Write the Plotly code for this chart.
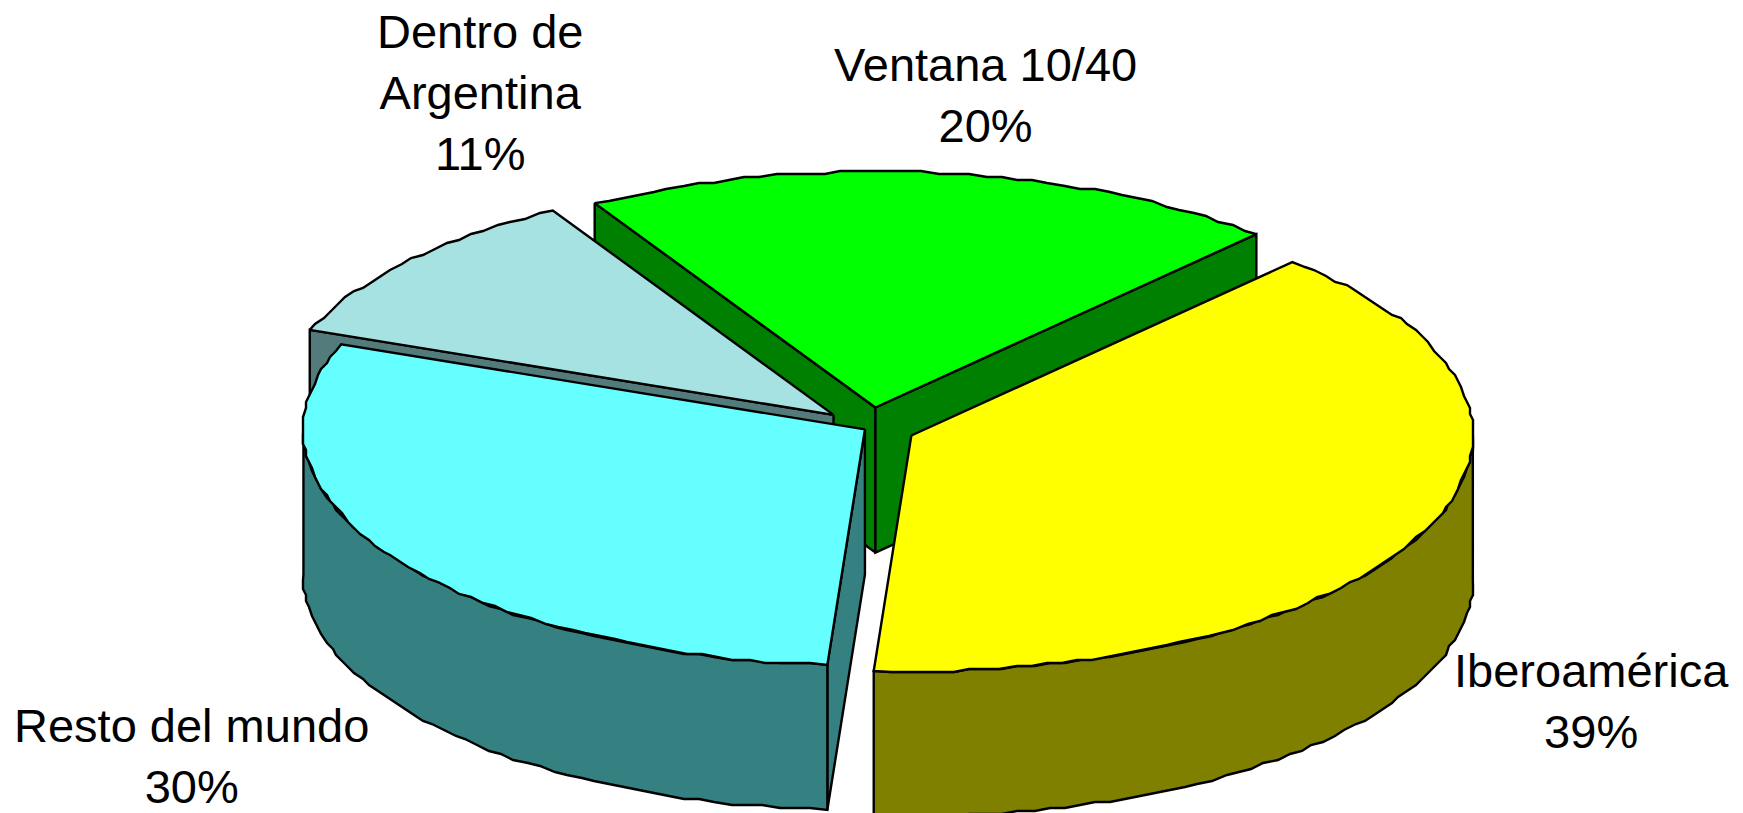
import numpy as np
import plotly.graph_objects as go

# --- data ---
categories = ["Ventana 10/40", "Iberoamérica", "Resto del mundo", "Dentro de<br>Argentina"]
values = [20.2, 39.2, 29.8, 10.8]
explode = [49, 45, 6, 48]

# --- style / layout ---
W, H = 1743, 813
CX, CY = 870.0, 428.0
A, B = 561.5, 236.0
DEPTH = 145.0
START = 120.0           # degrees, slices run clockwise
GRID = 3.0              # coarse stepping of the rim
STEP = 1.6
top_col = ["#00ff00", "#ffff00", "#66ffff", "#a6e2e2"]
side_col = ["#008000", "#808000", "#358080", "#537b7b"]
label_pos = [(985, 95), (1591, 701), (191, 756), (480, 92)]
FONT = dict(family="Liberation Sans, Arial, sans-serif", size=47, color="black")


def rim(c, t0, t1):
    n = max(int(abs(t1 - t0) / STEP), 2)
    t = np.radians(np.linspace(t0, t1, n))
    x = c[0] + A * np.cos(t)
    y = c[1] - B * np.sin(t)
    x[1:-1] = np.round(x[1:-1] / GRID) * GRID
    y[1:-1] = np.round(y[1:-1] / GRID) * GRID
    return x, y


def poly(x, y, col):
    x = list(x) + [x[0]]
    y = list(y) + [y[0]]
    return go.Scatter(x=x, y=y, mode="lines", fill="toself", fillcolor=col,
                      line=dict(color="black", width=2.4, simplify=False),
                      hoverinfo="skip", showlegend=False)


def cut_face(c, t, col):
    x, y = rim(c, t, t)
    ex, ey = x[0], y[0]
    return poly([c[0], ex, ex, c[0]], [c[1], ey, ey + DEPTH, c[1] + DEPTH], col)


def wall(c, t0, t1, col):
    x, y = rim(c, t0, t1)
    return poly(list(x) + list(x[::-1]), list(y) + list(y[::-1] + DEPTH), col)


def top(c, t0, t1, col):
    x, y = rim(c, t0, t1)
    return poly([c[0]] + list(x), [c[1]] + list(y), col)


sweep = np.array(values) / sum(values) * 360
angles = [START]
for s in sweep:
    angles.append(angles[-1] - s)

slices = []
for i in range(len(values)):
    t0, t1 = angles[i], angles[i + 1]
    m = np.radians((t0 + t1) / 2)
    c = (CX + explode[i] * np.cos(m), CY - explode[i] * np.sin(m) * B / A)
    slices.append((c, t0, t1))

fig = go.Figure()
# Ventana
c, t0, t1 = slices[0]
fig.add_trace(cut_face(c, t0, side_col[0]))
fig.add_trace(cut_face(c, t1, side_col[0]))
fig.add_trace(top(c, t0, t1, top_col[0]))
# Iberoamerica
c, t0, t1 = slices[1]
fig.add_trace(wall(c, 0, t1, side_col[1]))
fig.add_trace(top(c, t0, t1, top_col[1]))
# Dentro de Argentina
c, t0, t1 = slices[3]
fig.add_trace(cut_face(c, t0, side_col[3]))
fig.add_trace(top(c, t0, t1, top_col[3]))
# Resto del mundo
c, t0, t1 = slices[2]
fig.add_trace(cut_face(c, t0, side_col[2]))
fig.add_trace(wall(c, t0, -180, side_col[2]))
fig.add_trace(top(c, t0, t1, top_col[2]))

annotations = []
for name, v, (x, y) in zip(categories, values, label_pos):
    annotations.append(dict(x=x, y=y, xref="x", yref="y", showarrow=False,
                            text=f"{name}<br>{round(v)}%", font=FONT,
                            align="center", xanchor="center", yanchor="middle"))

fig.update_layout(
    width=W, height=H, margin=dict(l=0, r=0, t=0, b=0),
    paper_bgcolor="white", plot_bgcolor="white", annotations=annotations,
    xaxis=dict(range=[0, W], visible=False, fixedrange=True),
    yaxis=dict(range=[H, 0], visible=False, fixedrange=True),
)
fig.write_html("out.html", config=dict(displayModeBar=False),
               post_script="document.body.style.margin='0';document.body.style.overflow='hidden';")
